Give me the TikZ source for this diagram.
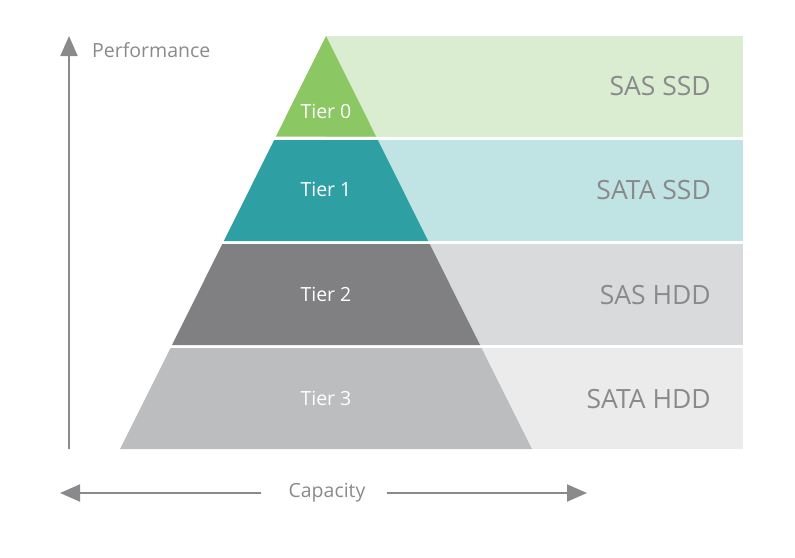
\documentclass[tikz,border=0pt]{standalone}
\usepackage{fontspec}
\setmainfont{Open Sans}
\usetikzlibrary{arrows.meta}
\definecolor{gA}{HTML}{8BC762}
\definecolor{gAl}{HTML}{DAEDD0}
\definecolor{gB}{HTML}{2EA0A4}
\definecolor{gBl}{HTML}{C0E3E3}
\definecolor{gC}{HTML}{808083}
\definecolor{gCl}{HTML}{D9DADB}
\definecolor{gD}{HTML}{BCBDBF}
\definecolor{gDl}{HTML}{EBEBEB}
\definecolor{txt}{HTML}{8A8A8C}
\tikzset{
  tierlbl/.style={text=white,font=\fontsize{19.5}{19.5}\selectfont,inner sep=0pt},
  medlbl/.style={text=txt,font=\fontsize{26.5}{26.5}\selectfont,inner sep=0pt,anchor=east},
  axlbl/.style={text=txt,font=\fontsize{19.5}{19.5}\selectfont,inner sep=0pt},
  axis/.style={draw=txt,line width=2pt,-{Triangle[length=20pt,width=17pt]}}
}
\begin{document}
\begin{tikzpicture}[x=1pt,y=-1pt]
\useasboundingbox (0,0) rectangle (795,557);
% light bands
\fill[gAl] (326,36) rectangle (743,136.5);
\fill[gBl] (326,140) rectangle (743,241);
\fill[gCl] (326,244) rectangle (743,345);
\fill[gDl] (326,348) rectangle (743,449);
% pyramid pieces
\fill[gA] (326,36) -- (376.1,136.5) -- (275.9,136.5) -- cycle;
\fill[gB] (274.2,140) -- (377.8,140) -- (428.2,241) -- (223.8,241) -- cycle;
\fill[gC] (222.3,244) -- (429.7,244) -- (480.0,345) -- (172.0,345) -- cycle;
\fill[gD] (170.5,348) -- (481.5,348) -- (531.9,449) -- (120.1,449) -- cycle;
% tier labels
\node[tierlbl] (t0) at (326,111) {Tier 0};
\node[tierlbl] (t1) at (326,189) {Tier 1};
\node[tierlbl] (t2) at (326,294) {Tier 2};
\node[tierlbl] (t3) at (326,398) {Tier 3};
% media labels
\node[medlbl] (m0) at (711,86) {SAS SSD};
\node[medlbl] (m1) at (711,190) {SATA SSD};
\node[medlbl] (m2) at (711,295) {SAS HDD};
\node[medlbl] (m3) at (711,399) {SATA HDD};
% axes
\coordinate (vb) at (69,449);
\coordinate (vt) at (69,36);
\draw[axis] (vb) -- (vt);
\node[axlbl,anchor=west] (perf) at (92,50) {Performance};
\node[axlbl] (cap) at (327,493) {Capacity};
\coordinate (hl) at (60,493);
\coordinate (hr) at (587,493);
\draw[axis] ([xshift=-27pt]cap.west) -- (hl);
\draw[axis] ([xshift=21pt]cap.east) -- (hr);
\end{tikzpicture}
\end{document}
